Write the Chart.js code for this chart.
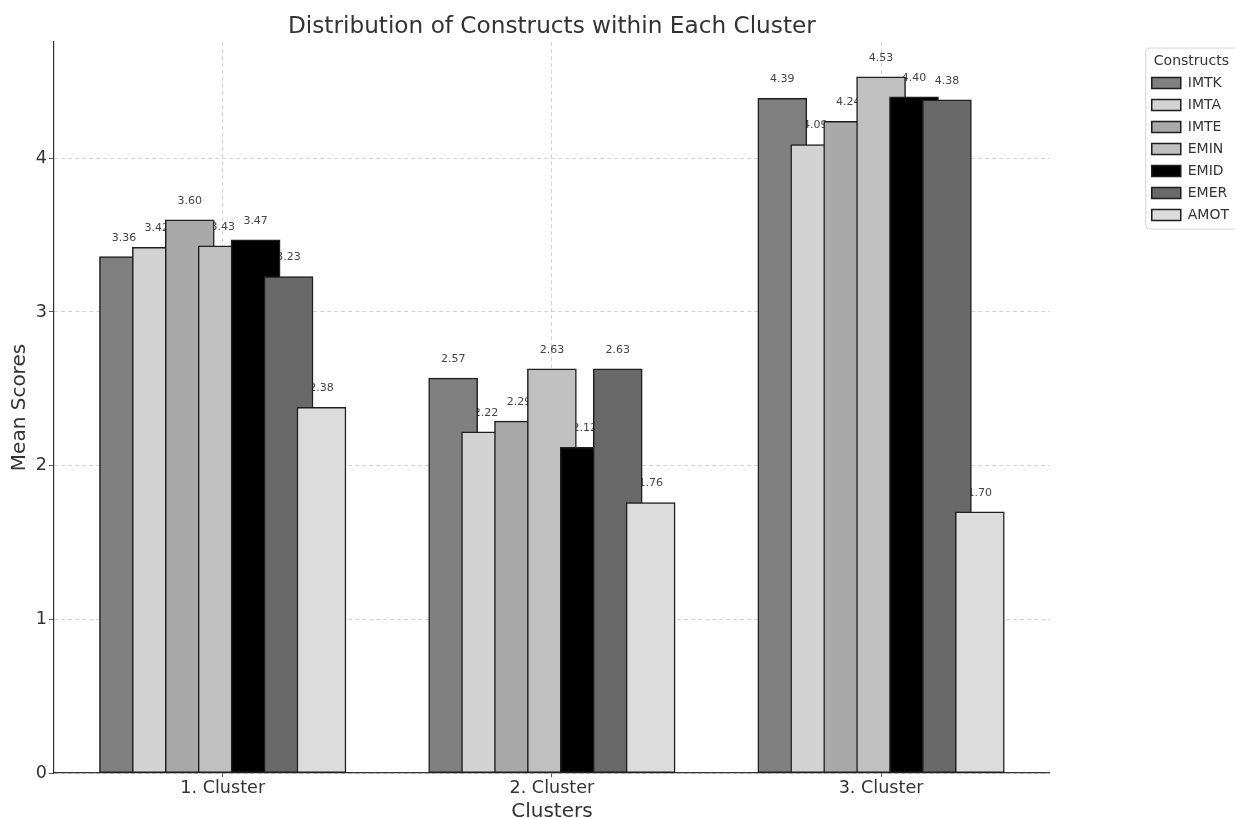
<!DOCTYPE html>
<html>
<head>
<meta charset="utf-8">
<script src="https://cdn.jsdelivr.net/npm/chart.js@4/dist/chart.umd.min.js"></script>
<style>
  html, body { margin: 0; padding: 0; background: #ffffff; }
  canvas { display: block; }
</style>
</head>
<body>
<canvas id="chart" width="1235" height="818"></canvas>
<script>
// Cluster categories and constructs
const clusters = ['1. Cluster', '2. Cluster', '3. Cluster'];
const constructs = ['IMTK', 'IMTA', 'IMTE', 'EMIN', 'EMID', 'EMER', 'AMOT'];

// Mean score of each construct per cluster
const imtk = [3.36, 2.57, 4.39];
const imta = [3.42, 2.22, 4.09];
const imte = [3.60, 2.29, 4.24];
const emin = [3.43, 2.63, 4.53];
const emid = [3.47, 2.12, 4.40];
const emer = [3.23, 2.63, 4.38];
const amot = [2.38, 1.76, 1.70];

const yTicks = [0, 1, 2, 3, 4];

const series = [imtk, imta, imte, emin, emid, emer, amot];
const fills = ['#808080', '#d3d3d3', '#a9a9a9', '#c0c0c0', '#000000', '#696969', '#dcdcdc'];

const FONT = '"DejaVu Sans", "Liberation Sans", sans-serif';
const TEXT = '#333333';

// Value labels, painted beneath the bars so taller neighbours can cover them
const valueLabels = {
  id: 'valueLabels',
  beforeDatasetsDraw(chart) {
    const ctx = chart.ctx;
    ctx.save();
    ctx.font = '11px ' + FONT;
    ctx.fillStyle = '#444444';
    ctx.textAlign = 'center';
    ctx.textBaseline = 'middle';
    chart.data.datasets.forEach((ds, i) => {
      const meta = chart.getDatasetMeta(i);
      meta.data.forEach((bar, j) => {
        ctx.fillText(ds.data[j].y.toFixed(2), bar.x, bar.y - 19);
      });
    });
    ctx.restore();
  }
};

// Rounded frame around the legend
const legendFrame = {
  id: 'legendFrame',
  afterDraw(chart) {
    const lg = chart.legend;
    const boxes = lg.legendHitBoxes;
    if (!boxes || !boxes.length) return;
    const last = boxes[boxes.length - 1];
    const left = boxes[0].left - 6;
    const top = lg.top + 6;
    const right = chart.width + 6;
    const bottom = last.top + last.height + 7;
    const r = 4;
    const ctx = chart.ctx;
    ctx.save();
    ctx.strokeStyle = '#d4d4d4';
    ctx.lineWidth = 1;
    ctx.beginPath();
    ctx.moveTo(left + r, top);
    ctx.lineTo(right, top);
    ctx.lineTo(right, bottom);
    ctx.lineTo(left + r, bottom);
    ctx.arcTo(left, bottom, left, bottom - r, r);
    ctx.lineTo(left, top + r);
    ctx.arcTo(left, top, left + r, top, r);
    ctx.stroke();
    ctx.restore();
  }
};

const datasets = constructs.map((name, i) => ({
  label: name,
  data: series[i].map((v, c) => ({ x: c + (i - 3) * 0.1, y: v })),
  backgroundColor: fills[i],
  borderColor: '#1e1e1e',
  borderWidth: 1.5,
  borderSkipped: false,
  barThickness: 49,
  grouped: false,
  order: constructs.length - i
}));

const gridColor = 'rgba(170,170,170,0.65)';

new Chart(document.getElementById('chart'), {
  type: 'bar',
  data: { datasets },
  plugins: [valueLabels, legendFrame],
  options: {
    responsive: false,
    animation: false,
    layout: { padding: { left: 0, top: 0, bottom: 0, right: -4 } },
    plugins: {
      title: {
        display: true,
        text: 'Distribution of Constructs within Each Cluster',
        color: TEXT,
        fullSize: false,
        font: { family: FONT, size: 23.2, weight: 'normal' },
        padding: { top: 13, bottom: 1.2 }
      },
      legend: {
        position: 'right',
        align: 'start',
        fullSize: false,
        title: {
          display: true,
          text: 'Constructs',
          color: TEXT,
          font: { family: FONT, size: 14, lineHeight: 1 },
          padding: { top: 12, bottom: 0 }
        },
        labels: {
          color: TEXT,
          font: { family: FONT, size: 14 },
          boxWidth: 29,
          boxHeight: 11,
          padding: 8,
          sort: (a, b) => a.datasetIndex - b.datasetIndex
        }
      },
      tooltip: { enabled: false }
    },
    scales: {
      x: {
        type: 'linear',
        position: 'bottom',
        min: -0.5125,
        max: 2.5125,
        offset: false,
        z: 1,
        afterBuildTicks: (s) => { s.ticks = clusters.map((_, i) => ({ value: i })); },
        afterFit: (s) => { s.height = 45; },
        ticks: {
          color: TEXT,
          font: { family: FONT, size: 17.6 },
          padding: 1,
          callback: (v) => clusters[v]
        },
        grid: {
          offset: false,
          color: gridColor,
          lineWidth: 0.8,
          tickColor: '#333333',
          tickLength: 4
        },
        border: { display: true, color: '#333333', width: 1.2, dash: [4, 3] },
        title: {
          display: true,
          text: 'Clusters',
          color: TEXT,
          font: { family: FONT, size: 20 },
          padding: { top: 0, bottom: -6 }
        }
      },
      y: {
        type: 'linear',
        position: 'left',
        min: 0,
        max: 4.7565,
        z: 1,
        afterBuildTicks: (s) => { s.ticks = yTicks.map((v) => ({ value: v })); },
        afterFit: (s) => { s.width = 54; },
        ticks: {
          color: TEXT,
          font: { family: FONT, size: 17.6 },
          padding: 2
        },
        grid: {
          color: gridColor,
          lineWidth: 0.8,
          tickColor: '#333333',
          tickLength: 5
        },
        border: { display: true, color: '#333333', width: 1.2, dash: [4, 3] },
        title: {
          display: true,
          text: 'Mean Scores',
          color: TEXT,
          font: { family: FONT, size: 20 },
          padding: { top: 8, bottom: 0 }
        }
      },
      gap: {
        type: 'linear',
        position: 'right',
        display: true,
        afterFit: (s) => { s.width = 94; },
        ticks: { display: false },
        grid: { display: false },
        border: { display: false },
        title: { display: false }
      }
    }
  }
});
</script>
</body>
</html>
